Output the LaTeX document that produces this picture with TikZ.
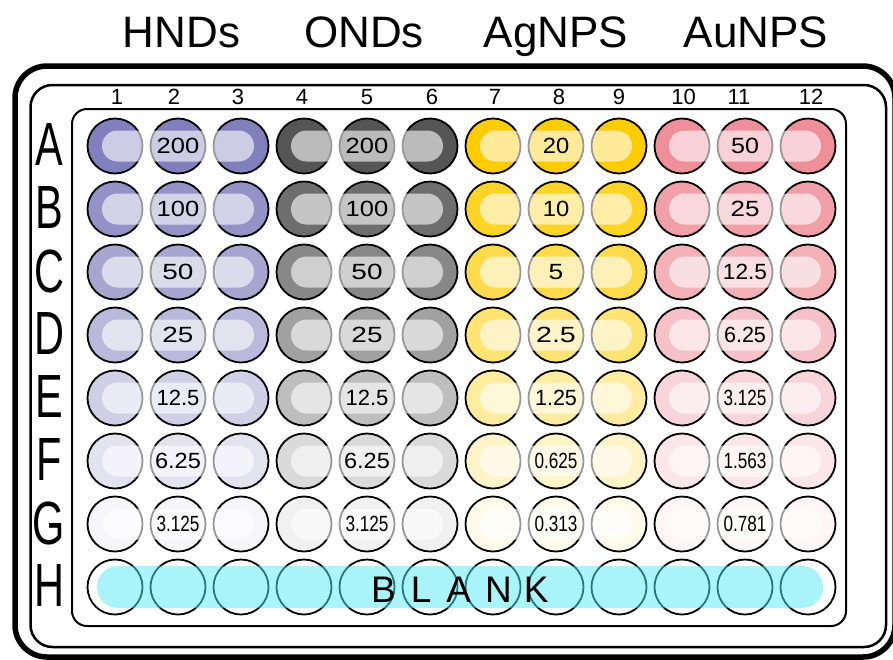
\documentclass[tikz,border=0pt]{standalone}
\usepackage{fontspec}
\setmainfont{Liberation Sans}
\usepackage{graphicx}
\definecolor{hnd}{RGB}{128,128,189}
\definecolor{ond}{RGB}{85,85,85}
\definecolor{agc}{RGB}{255,204,0}
\definecolor{auc}{RGB}{239,143,154}
\definecolor{blankc}{RGB}{85,235,249}
\tikzset{
  well/.style={circle, draw=black, line width=1.8pt, minimum size=55pt, inner sep=0pt},
  sheen/.style={fill=white, fill opacity=0.6},
  conc/.style={font=\fontsize{22}{22}\selectfont, inner sep=0pt},
  rowlab/.style={font=\fontsize{61}{61}\selectfont, inner sep=0pt},
  collab/.style={font=\fontsize{22}{22}\selectfont, inner sep=0pt, anchor=base},
  grouptitle/.style={font=\fontsize{44}{44}\selectfont, inner sep=0pt, anchor=base},
  blankband/.style={fill=blankc, fill opacity=0.5},
}
\begin{document}
\begin{tikzpicture}[x=1pt,y=-1pt]
\useasboundingbox (0,0) rectangle (893,659);
% frames
\begin{scope}
\clip (0,0) rectangle (893,659);
\draw[line width=5.5pt, rounded corners=32pt] (15,66) rectangle (895,657);
\end{scope}
\draw[line width=2.5pt, rounded corners=22pt] (30.5,85) rectangle (886,647);
\draw[line width=2pt, rounded corners=15pt] (72,109) rectangle (846,626);
% group titles
\node[grouptitle] (t-hnd) at (181.5,47) {HNDs};
\node[grouptitle] (t-ond) at (364,47) {ONDs};
\node[grouptitle] (t-ag) at (556,47) {AgNPS};
\node[grouptitle] (t-au) at (756,47) {AuNPS};
% column numbers
\foreach \c/\x in {1/117,2/174,3/238,4/302,5/367,6/432,7/495,8/559,9/619,10/683.5,11/739,12/811}
  \node[collab] (n-\c) at (\x,104) {\c};
% row letters
\foreach \r/\rl in {1/A,2/B,3/C,4/D,5/E,6/F,7/G,8/H}
  \node[rowlab] (r-\rl) at (49,{146+63*(\r-1)-1}) {\scalebox{0.68}[1]{\rl}};
% wells A-G
\foreach \g/\col in {0/hnd,1/ond,2/agc,3/auc} {
  \foreach \r/\rl/\p in {1/A/100,2/B/85,3/C/70,4/D/55,5/E/38,6/F/22,7/G/8} {
    \foreach \k in {1,2,3} {
      \pgfmathtruncatemacro\c{3*\g+\k}
      \node[well, fill=\col!\p!white] (w-\rl-\c) at ({115+63*(\c-1)},{146+63*(\r-1)}) {};
    }
    \fill[sheen, rounded corners=15.5pt]
      ({115+63*(3*\g)-13},{146+63*(\r-1)-15.5}) rectangle
      ({115+63*(3*\g+2)+13},{146+63*(\r-1)+15.5});
  }
}
% row H
\foreach \c in {1,...,12}
  \node[well, fill=white] (w-H-\c) at ({115+63*(\c-1)},587) {};
\fill[blankband, rounded corners=21pt] (97,566) rectangle (823,608);
\node[font=\fontsize{37}{37}\selectfont, inner sep=0pt, anchor=base west] (blank) at (371,602)
  {B\hspace{15pt}L\hspace{15pt}A\hspace{14pt}N\hspace{12pt}K};
% concentrations
\foreach \rl/\t/\s in {A/200/1.16,B/100/1.16,C/50/1.27,D/25/1.27,E/12.5/1.0,F/6.25/1.07,G/3.125/0.78} {
  \node[conc] (c-\rl-2) at (w-\rl-2) {\scalebox{\s}[1]{\t}};
  \node[conc] (c-\rl-5) at (w-\rl-5) {\scalebox{\s}[1]{\t}};
}
\foreach \rl/\t/\s in {A/20/1.08,B/10/1.08,C/5/1.2,D/2.5/1.3,E/1.25/0.98,F/0.625/0.78,G/0.313/0.78}
  \node[conc] (c-\rl-8) at (w-\rl-8) {\scalebox{\s}[1]{\t}};
\foreach \rl/\t/\s in {A/50/1.14,B/25/1.18,C/12.5/1.03,D/6.25/0.98,E/3.125/0.78,F/1.563/0.78,G/0.781/0.78}
  \node[conc] (c-\rl-11) at (w-\rl-11) {\scalebox{\s}[1]{\t}};
\end{tikzpicture}
\end{document}
